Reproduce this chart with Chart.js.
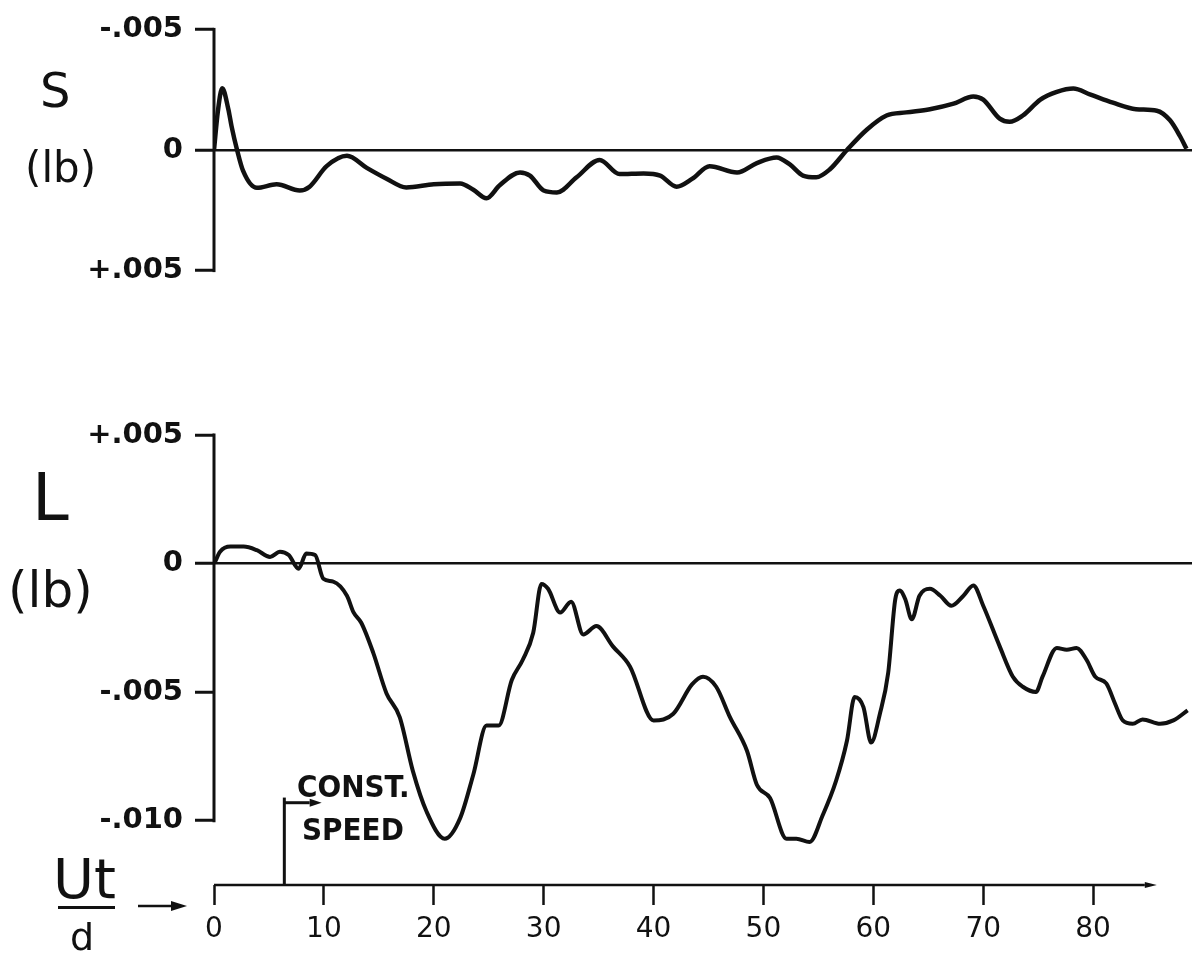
<!DOCTYPE html>
<html lang="en">
<head>
<meta charset="utf-8">
<title>S y L contra Ut/d</title>
<script src="https://cdn.jsdelivr.net/npm/chart.js@4.4.1/dist/chart.umd.min.js"></script>
<style>
  html, body { margin: 0; padding: 0; background: #fff; }
  #lienzo { position: relative; width: 1194px; height: 953px; overflow: hidden; font-family: 'DejaVu Sans', sans-serif; color: #111; }
  #lienzo canvas { position: absolute; left: 0; }
  .txt { position: absolute; line-height: 1; white-space: nowrap; }
  .rotulo { font-family: 'DejaVu Sans Condensed', 'DejaVu Sans', sans-serif; font-weight: bold; font-size: 31px; }
</style>
</head>
<body>
<div id="lienzo">
  <canvas id="chartS" width="1194" height="300" style="top:0; width:1194px; height:300px;"></canvas>
  <canvas id="chartL" width="1194" height="553" style="top:400px; width:1194px; height:553px;"></canvas>

  <div class="txt" style="left:40px; top:66px; font-size:48px;">S</div>
  <div class="txt" style="left:25px; top:147px; font-size:42px;">(lb)</div>
  <div class="txt" style="left:32px; top:465px; font-size:66px;">L</div>
  <div class="txt" style="left:8px; top:565px; font-size:50px;">(lb)</div>

  <div class="txt" style="left:53px; top:851px; font-size:56px;">Ut</div>
  <div style="position:absolute; left:58px; top:906px; width:57px; height:3px; background:#111;"></div>
  <div class="txt" style="left:70px; top:918px; font-size:38px;">d</div>

  <div class="txt rotulo" style="left:297px; top:771px;">CONST.</div>
  <div class="txt rotulo" style="left:302px; top:814px;">SPEED</div>
</div>

<script>
// Datos (fuerzas en lb contra Ut/d)
const utS = [0, 0.35, 0.75, 1.3, 1.6, 2.1, 2.65, 3.9, 5.7, 7.8, 8.7, 10.25, 12.1, 13.9, 15.7, 17.5, 20.0, 22.4, 23.6, 24.8, 26.0, 27.85, 28.75, 30.0, 31.2, 33.0, 35.1, 36.9, 39.1, 40.6, 42.1, 43.5, 45.1, 47.6, 49.4, 51.2, 52.4, 53.6, 54.8, 56.05, 57.6, 59.4, 61.2, 63.0, 65.15, 67.3, 69.1, 70.0, 71.5, 72.4, 73.6, 75.2, 76.7, 78.2, 79.7, 81.8, 83.9, 85.8, 87.0, 87.9, 88.5];
const valoresS = [0, -0.0016, -0.00256, -0.0017, -0.00098, 0, 0.00087, 0.00157, 0.00142, 0.00168, 0.00152, 0.00067, 0.00024, 0.00074, 0.00119, 0.00155, 0.00142, 0.00139, 0.00165, 0.0020, 0.00146, 0.00093, 0.00106, 0.00168, 0.00176, 0.00113, 0.00041, 0.0010, 0.00097, 0.00106, 0.00152, 0.0012, 0.00067, 0.00093, 0.00054, 0.00031, 0.0006, 0.00106, 0.00113, 0.0008, 0, -0.00084, -0.00143, -0.00156, -0.00169, -0.00192, -0.00222, -0.00209, -0.0013, -0.00117, -0.00143, -0.00209, -0.00241, -0.00255, -0.00231, -0.00196, -0.00169, -0.00163, -0.00123, -0.00058, -0.00005];

const utL = [0.1, 0.55, 1.5, 2.7, 3.9, 5.1, 6.0, 6.8, 7.7, 8.4, 9.2, 9.95, 10.85, 12.1, 12.7, 13.4, 14.5, 15.7, 16.9, 18.1, 19.35, 21.0, 22.4, 23.6, 24.8, 25.9, 27.1, 28.1, 29.05, 29.8, 30.4, 31.5, 32.5, 33.6, 34.8, 36.3, 37.85, 40.0, 41.8, 43.5, 44.5, 45.7, 46.95, 48.5, 49.4, 50.6, 52.1, 53.0, 54.2, 55.4, 56.6, 57.6, 58.3, 59.1, 59.8, 60.6, 61.35, 62.0, 62.4, 62.9, 63.5, 64.2, 65.15, 66.1, 67.1, 68.2, 69.1, 70.0, 71.5, 72.7, 73.6, 74.8, 75.4, 76.7, 77.6, 78.5, 79.4, 80.2, 81.2, 82.0, 82.7, 83.6, 84.5, 86.1, 87.3, 88.6];
const valoresL = [0.00007, 0.00046, 0.00066, 0.00066, 0.00052, 0.00026, 0.00046, 0.00033, -0.0002, 0.00039, 0.00033, -0.00059, -0.0007, -0.00125, -0.0019, -0.0023, -0.00348, -0.00505, -0.00597, -0.00807, -0.00965, -0.0107, -0.0099, -0.0082, -0.0063, -0.0063, -0.00453, -0.00374, -0.00269, -0.00079, -0.00098, -0.0019, -0.00148, -0.00276, -0.00243, -0.00322, -0.004, -0.0061, -0.00584, -0.0047, -0.0044, -0.00479, -0.00597, -0.00728, -0.0086, -0.00912, -0.0107, -0.0107, -0.01083, -0.00978, -0.00846, -0.00689, -0.00519, -0.00558, -0.00696, -0.00584, -0.00426, -0.00138, -0.00105, -0.00138, -0.00217, -0.00125, -0.00098, -0.00125, -0.00164, -0.00125, -0.00085, -0.00164, -0.00322, -0.0044, -0.00479, -0.00499, -0.0044, -0.00328, -0.00335, -0.00328, -0.00374, -0.0044, -0.00466, -0.00545, -0.0061, -0.00623, -0.00606, -0.00623, -0.0061, -0.00571];

// Marcas de los ejes
const ticksX = [0, 10, 20, 30, 40, 50, 60, 70, 80];
const ticksS = [-0.005, 0, 0.005];
const etiquetasS = ['-.005', '0', '+.005'];
const ticksL = [0.005, 0, -0.005, -0.010];
const etiquetasL = ['+.005', '0', '-.005', '-.010'];

// Inicio de velocidad constante (Ut/d)
const inicioVelocidad = 6.4;

const NEGRO = '#111';
Chart.defaults.font.family = "'DejaVu Sans', sans-serif";
Chart.defaults.color = NEGRO;

function aPuntos(xs, ys) {
    return xs.map((x, i) => ({ x: x, y: ys[i] }));
}

function flecha(ctx, x0, y0, x1, y1, largo, ancho) {
    ctx.beginPath();
    ctx.moveTo(x0, y0);
    ctx.lineTo(x1 - largo, y1);
    ctx.stroke();
    ctx.beginPath();
    ctx.moveTo(x1, y1);
    ctx.lineTo(x1 - largo, y1 - ancho);
    ctx.lineTo(x1 - largo, y1 + ancho);
    ctx.closePath();
    ctx.fill();
}

// Dibuja la línea vertical del eje y (entre primer y último tick) y, en el panel inferior, el eje x con flecha
const ejesPlugin = {
    id: 'ejes',
    afterDraw(chart, args, opts) {
        const ctx = chart.ctx;
        const area = chart.chartArea;
        const xS = chart.scales.x;
        const yS = chart.scales.y;
        ctx.save();
        ctx.strokeStyle = NEGRO;
        ctx.fillStyle = NEGRO;
        ctx.lineWidth = 3;
        ctx.lineCap = 'square';

        ctx.beginPath();
        ctx.moveTo(area.left, yS.getPixelForValue(opts.yDesde));
        ctx.lineTo(area.left, yS.getPixelForValue(opts.yHasta));
        ctx.stroke();

        if (opts.ejeX) {
            const yb = area.bottom;
            ctx.lineWidth = 2.5;
            ctx.lineCap = 'butt';
            flecha(ctx, area.left, yb, xS.getPixelForValue(opts.finEjeX), yb, 12, 3);

            // flecha del título Ut/d
            flecha(ctx, area.left - 76, yb + 21, area.left - 27, yb + 21, 16, 5);

            // marca de velocidad constante
            const xv = xS.getPixelForValue(inicioVelocidad);
            ctx.lineWidth = 3;
            ctx.beginPath();
            ctx.moveTo(xv, yS.getPixelForValue(-0.0091));
            ctx.lineTo(xv, yb);
            ctx.stroke();
            const ya = yS.getPixelForValue(-0.0093);
            flecha(ctx, xv, ya, xS.getPixelForValue(9.8), ya, 12, 4);
        }
        ctx.restore();
    }
};

function ejeY(ticks, etiquetas, min, max, invertido) {
    return {
        type: 'linear',
        min: min,
        max: max,
        reverse: invertido,
        afterFit(scale) { scale.width = 214; },
        afterBuildTicks(scale) { scale.ticks = ticks.map(v => ({ value: v })); },
        ticks: {
            padding: 12,
            font: { size: 29, weight: 'bold' },
            color: NEGRO,
            callback: (valor) => etiquetas[ticks.indexOf(valor)]
        },
        grid: {
            color: c => (c.tick && c.tick.value === 0) ? NEGRO : 'rgba(0,0,0,0)',
            lineWidth: 2.5,
            tickColor: NEGRO,
            tickLength: 19,
            tickWidth: 3
        },
        border: { display: false }
    };
}

function ejeX(visible) {
    return {
        type: 'linear',
        min: 0,
        max: 89,
        display: visible,
        afterFit(scale) { if (visible) scale.height = 68; },
        afterBuildTicks(scale) { scale.ticks = ticksX.map(v => ({ value: v })); },
        ticks: {
            padding: 8,
            font: { size: 28 },
            color: NEGRO,
            maxRotation: 0,
            callback: (valor) => String(valor)
        },
        grid: {
            drawOnChartArea: false,
            color: 'rgba(0,0,0,0)',
            tickColor: NEGRO,
            tickLength: 20,
            tickWidth: 2.5
        },
        border: { display: false }
    };
}

function opcionesBase() {
    return {
        responsive: false,
        animation: false,
        devicePixelRatio: 1,
        events: [],
        plugins: { legend: { display: false }, tooltip: { enabled: false } },
        elements: { point: { radius: 0 } }
    };
}

// Panel superior: S
const opcionesS = opcionesBase();
opcionesS.layout = { padding: { top: 22, bottom: 24, right: 2, left: 0 } };
opcionesS.scales = { x: ejeX(false), y: ejeY(ticksS, etiquetasS, -0.005, 0.005, true) };
opcionesS.plugins.ejes = { yDesde: -0.005, yHasta: 0.005, ejeX: false };

new Chart(document.getElementById('chartS'), {
    type: 'line',
    data: {
        datasets: [{
            label: 'S',
            data: aPuntos(utS, valoresS),
            borderColor: NEGRO,
            borderWidth: 4.5,
            cubicInterpolationMode: 'monotone',
            fill: false
        }]
    },
    options: opcionesS,
    plugins: [ejesPlugin]
});

// Panel inferior: L
const opcionesL = opcionesBase();
opcionesL.layout = { padding: { top: 35, bottom: 0, right: 2, left: 0 } };
opcionesL.scales = { x: ejeX(true), y: ejeY(ticksL, etiquetasL, -0.0125, 0.005, false) };
opcionesL.plugins.ejes = { yDesde: 0.005, yHasta: -0.010, ejeX: true, finEjeX: 85.8 };

new Chart(document.getElementById('chartL'), {
    type: 'line',
    data: {
        datasets: [{
            label: 'L',
            data: aPuntos(utL, valoresL),
            borderColor: NEGRO,
            borderWidth: 4,
            cubicInterpolationMode: 'monotone',
            fill: false
        }]
    },
    options: opcionesL,
    plugins: [ejesPlugin]
});
</script>
</body>
</html>
